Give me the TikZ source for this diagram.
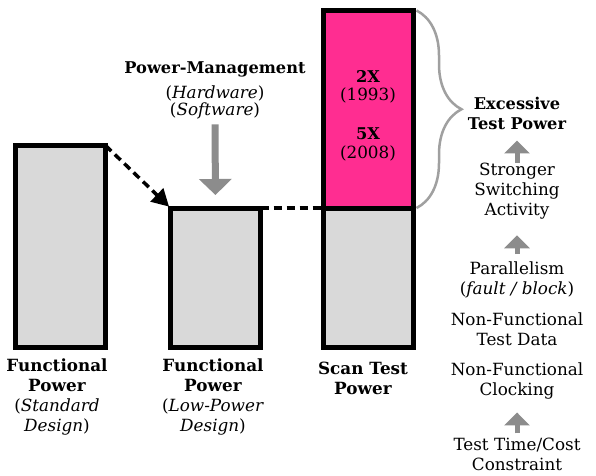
\documentclass[tikz,border=0pt]{standalone}
\usepackage{fontspec}
\setmainfont{DejaVu Serif}
\usetikzlibrary{arrows.meta,decorations.pathreplacing}
\definecolor{hotpink}{RGB}{255,45,145}
\definecolor{boxgray}{RGB}{217,217,217}
\definecolor{arrgray}{RGB}{140,140,140}
\definecolor{bracegray}{RGB}{160,160,160}
\begin{document}
\begin{tikzpicture}[x=1pt,y=-1pt,
  bar/.style={draw=black,line width=5pt,fill=boxgray,minimum width=90pt,inner sep=0pt,outer sep=0pt},
  txt/.style={font=\fontsize{16.8}{20}\selectfont,align=center,inner sep=0pt},
  btxt/.style={font=\fontsize{16.2}{20}\selectfont\bfseries,align=center,inner sep=0pt},
  uparrow/.style={draw=arrgray,line width=5pt,-{Triangle[width=25pt,length=13pt]}},
  pmarrow/.style={draw=arrgray,line width=7pt,-{Triangle[width=32pt,length=16pt]}},
  dasharrow/.style={draw=black,line width=3.5pt,dash pattern=on 8pt off 5pt,-{Triangle[width=18pt,length=17pt]}},
  dashline/.style={draw=black,line width=3.5pt,dash pattern=on 8pt off 5pt},
]
\useasboundingbox[fill=white] (0,0) rectangle (596,475);
% bars
\node[bar,minimum height=201.5pt] (b1) at (60.5,246.25) {};
\node[bar,minimum height=139pt] (b2) at (215.5,277.5) {};
\node[bar,fill=hotpink,minimum height=197.5pt] (b3hi) at (368.5,109.25) {};
\node[bar,minimum height=139pt] (b3lo) at (368.5,277.5) {};
% connectors between bars
\draw[dasharrow,shorten >=2pt] (b1.north east) -- (b2.north west);
\draw[dashline] (b2.north east) -- (b3lo.north west);
% pink box text
\node[btxt] (x2) at (368,76) {2X};
\node[txt] (y1) at (368,95) {(1993)};
\node[btxt] (x5) at (368,134) {5X};
\node[txt] (y2) at (368,153) {(2008)};
% brace
\draw[draw=bracegray,line width=2.5pt,decorate,decoration={brace,amplitude=45pt}]
  ([xshift=3pt]b3hi.north east) -- ([xshift=3pt]b3lo.north east);
% power management
\node[btxt] (pm) at (215,69) {Power-Management};
\node[txt] (hw) at (215,93) {(\textit{Hardware})};
\node[txt] (sw) at (215,111) {(\textit{Software})};
\draw[pmarrow,shorten <=5pt,shorten >=13pt] (sw.south) -- (b2.north);
% right column
\node[btxt] (exc) at (517,113) {Excessive\\Test Power};
\node[txt] (ssa) at (517,191) {Stronger\\Switching\\Activity};
\node[txt] (par) at (517,279.5) {Parallelism\\(\textit{fault / block})};
\node[txt] (nftd) at (517,329) {Non-Functional\\Test Data};
\node[txt] (nfc) at (517,381) {Non-Functional\\Clocking};
\node[txt] (ttc) at (517,454) {Test Time/Cost\\Constraint};
\draw[uparrow,shorten <=0pt,shorten >=11pt] (ssa.north) -- (exc.south);
\draw[uparrow,shorten <=7pt,shorten >=16pt] (par.north) -- (ssa.south);
\draw[uparrow,shorten <=4pt,shorten >=13pt] (ttc.north) -- (nfc.south);
% bottom labels
\node[txt] (l1) at (57,396.5) {\textbf{Functional}\\\textbf{Power}\\(\textit{Standard}\\\textit{Design})};
\node[txt] (l2) at (213,396.5) {\textbf{Functional}\\\textbf{Power}\\(\textit{Low-Power}\\\textit{Design})};
\node[txt] (l3) at (363,378) {\textbf{Scan Test}\\\textbf{Power}};
\end{tikzpicture}
\end{document}
